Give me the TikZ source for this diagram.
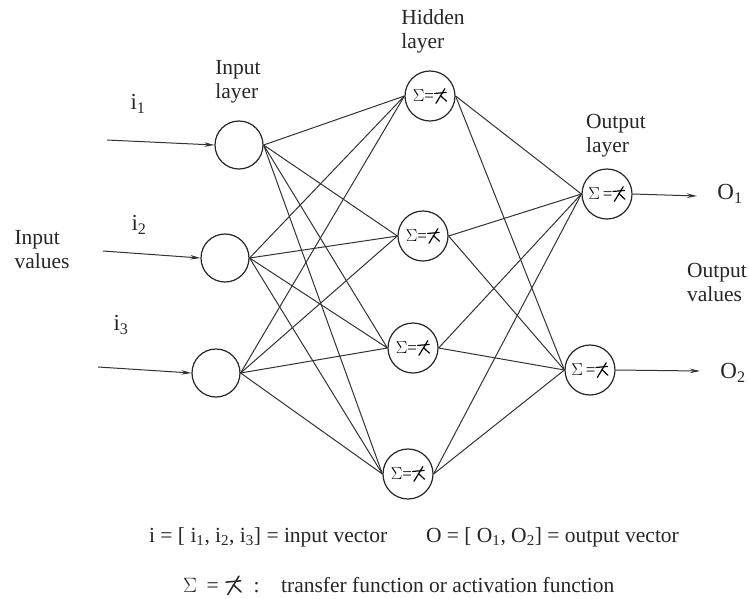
\documentclass[tikz,border=0pt]{standalone}
\usepackage{fontspec}
\setmainfont{Liberation Serif}
\usetikzlibrary{arrows.meta}
\newcommand{\kapsym}{\tikz[baseline=0pt,x=1em,y=1em,line width=0.07em,line cap=round]{\draw (0.62,0.74) -- (0.1,-0.12); \draw (0.02,0.46) -- (0.7,0.52); \draw (0.36,0.34) -- (0.72,0.0);}}
\begin{document}
\begin{tikzpicture}[x=1pt,y=-1pt,
  neuron/.style={circle,draw=black!85,line width=1.2pt,minimum size=48pt,inner sep=0pt},
  hid/.style={neuron,minimum size=50pt,font=\fontsize{17}{17}\selectfont},
  conn/.style={line width=1pt,draw=black!80},
  inarrow/.style={conn,-{Stealth[length=10pt,width=4.5pt]}},
  lbl/.style={font=\fontsize{21.5}{24}\selectfont,align=left,inner sep=0pt,text=black!85},
  sym/.style={font=\fontsize{23}{24}\selectfont,inner sep=0pt,text=black!85},
  legend/.style={font=\fontsize{21.5}{24}\selectfont,inner sep=0pt,text=black!85}
]
\useasboundingbox[fill=white] (0,0) rectangle (749,598);

% input layer
\node[neuron] (i1) at (239,145) {};
\node[neuron] (i2) at (225,258) {};
\node[neuron] (i3) at (216,373) {};

% hidden layer
\node[hid] (h1) at (430,96) {$\Sigma$=\kapsym};
\node[hid] (h2) at (423,236) {$\Sigma$=\kapsym};
\node[hid] (h3) at (413,348) {$\Sigma$=\kapsym};
\node[hid] (h4) at (408,474) {$\Sigma$=\kapsym};

% output layer
\node[hid] (o1) at (607,194) {$\Sigma$\,=\kapsym};
\node[hid] (o2) at (590,370) {$\Sigma$\,=\kapsym};

% connections
\foreach \a in {i1,i2,i3}
  \foreach \b in {h1,h2,h3,h4}
    \draw[conn] (\a.east) -- (\b.west);
\foreach \a in {h1,h2,h3,h4}
  \foreach \b in {o1,o2}
    \draw[conn] (\a.east) -- (\b.west);

% input arrows
\coordinate (s1) at (107,140);
\coordinate (s2) at (103,251);
\coordinate (s3) at (98,367);
\draw[inarrow] (s1) -- (i1.west);
\draw[inarrow] (s2) -- (i2.west);
\draw[inarrow] (s3) -- (i3.west);

% output arrows
\coordinate (e1) at (697,196);
\coordinate (e2) at (700,371);
\draw[inarrow] (o1.east) -- (e1);
\draw[inarrow] (o2.east) -- (e2);

% labels
\node[sym] (li1) at (138,104) {i\textsubscript{1}};
\node[sym] (li2) at (139,225) {i\textsubscript{2}};
\node[sym] (li3) at (121,325) {i\textsubscript{3}};
\node[sym] (lo1) at (730,194) {O\textsubscript{1}};
\node[sym] (lo2) at (733,373) {O\textsubscript{2}};

\node[lbl] (thid) at (433,31) {Hidden\\layer};
\node[lbl] (tin) at (238,82) {Input\\layer};
\node[lbl] (tout) at (616,136) {Output\\layer};
\node[lbl] (tinv) at (42,250) {Input\\values};
\node[lbl] (toutv) at (717,282) {Output\\values};

% legend
\node[legend,anchor=base] (leg1) at (414,542) {i = [ i\textsubscript{1}, i\textsubscript{2}, i\textsubscript{3}] = input vector\hspace{1.8em}O = [ O\textsubscript{1}, O\textsubscript{2}] = output vector};
\node[legend,anchor=base west] (leg2) at (183,592) {$\Sigma$\hspace{0.45em}=\hspace{0.3em}\kapsym\hspace{0.55em}:\hspace{1.0em}transfer function or activation function};
\end{tikzpicture}
\end{document}
